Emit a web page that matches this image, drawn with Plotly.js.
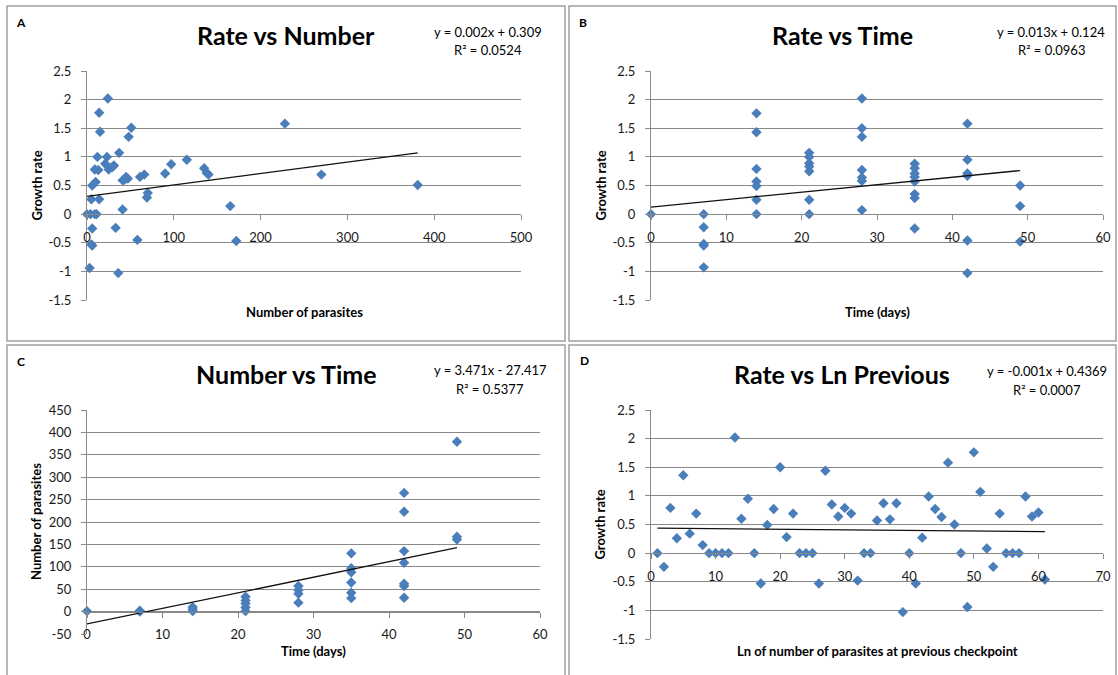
<!DOCTYPE html>
<html>
<head>
<meta charset="utf-8">
<script src="https://cdn.plot.ly/plotly-3.0.1.min.js"></script>
<style>
  html, body { margin: 0; padding: 0; background: #ffffff; }
  #chart { width: 1118px; height: 675px; }
</style>
</head>
<body>
<div id="chart"></div>
<script>
// ---------------- DATA ----------------
// Panel A: growth rate vs number of parasites
const numParasitesA = [24, 14, 15, 51, 48, 37, 12, 23, 21, 25, 31, 29, 9, 13, 10, 6, 5, 14, 41, 43, 47, 45, 61, 66, 90, 97, 115, 135, 138, 140, 70, 69, 41, 165, 228, 270, 381, 0, 4, 9, 11, 6, 33, 5, 6, 58, 172, 3, 36];
const rateA        = [2.02, 1.77, 1.44, 1.51, 1.35, 1.07, 1.0, 1.0, 0.88, 0.78, 0.85, 0.82, 0.78, 0.77, 0.56, 0.5, 0.26, 0.26, 0.59, 0.6, 0.62, 0.65, 0.65, 0.69, 0.71, 0.87, 0.95, 0.8, 0.72, 0.69, 0.37, 0.29, 0.08, 0.14, 1.58, 0.69, 0.51, 0, 0, 0, 0, -0.25, -0.24, -0.53, -0.55, -0.45, -0.47, -0.94, -1.03];

// Panel B: growth rate vs time (days)
const timeB = [0, 7, 7, 7, 7, 7, 14, 14, 14, 14, 14, 14, 14, 21, 21, 21, 21, 21, 21, 21, 28, 28, 28, 28, 28, 28, 28, 35, 35, 35, 35, 35, 35, 35, 35, 42, 42, 42, 42, 42, 42, 49, 49, 49];
const rateB = [0, 0, -0.23, -0.52, -0.55, -0.93, 1.76, 1.43, 0.79, 0.57, 0.49, 0.25, 0, 1.07, 1.0, 0.89, 0.83, 0.75, 0.25, 0, 2.02, 1.5, 1.35, 0.77, 0.64, 0.58, 0.07, 0.88, 0.8, 0.71, 0.65, 0.57, 0.35, 0.28, -0.25, 1.58, 0.95, 0.71, 0.67, -0.46, -1.03, 0.5, 0.14, -0.48];

// Panel C: number of parasites vs time (days)
const timeC = [0, 7, 7, 14, 14, 14, 21, 21, 21, 21, 21, 28, 28, 28, 28, 35, 35, 35, 35, 35, 35, 42, 42, 42, 42, 42, 42, 42, 49, 49, 49];
const numParasitesC = [1, 0, 2, 10, 5, 1, 33, 25, 18, 9, 1, 57, 48, 40, 20, 130, 97, 88, 65, 42, 30, 265, 223, 135, 109, 62, 57, 31, 379, 167, 161];

// Panel D: growth rate vs ln of number of parasites at previous checkpoint
const lnPrevD = [1, 2, 3, 4, 5, 6, 7, 8, 9, 10, 11, 12, 13, 14, 15, 16, 17, 18, 19, 20, 21, 22, 23, 24, 25, 26, 27, 28, 29, 30, 31, 32, 33, 34, 35, 36, 37, 38, 39, 40, 41, 42, 43, 44, 45, 46, 47, 48, 49, 50, 51, 52, 53, 54, 55, 56, 57, 58, 59, 60, 61];
const rateD   = [0, -0.24, 0.79, 0.26, 1.36, 0.34, 0.69, 0.14, 0, 0, 0, 0, 2.02, 0.6, 0.95, 0, -0.53, 0.49, 0.77, 1.5, 0.28, 0.69, 0, 0, 0, -0.53, 1.44, 0.85, 0.64, 0.79, 0.69, -0.48, 0, 0, 0.57, 0.87, 0.59, 0.87, -1.03, 0, -0.53, 0.27, 0.99, 0.77, 0.63, 1.58, 0.5, 0, -0.94, 1.76, 1.07, 0.08, -0.24, 0.69, 0, 0, 0, 0.99, 0.64, 0.71, -0.46];

// Linear trendlines (as displayed)
const trendSlope     = [0.002, 0.013, 3.471, -0.001];
const trendIntercept = [0.309, 0.124, -27.417, 0.4369];
const eqLabels = ["y = 0.002x + 0.309", "y = 0.013x + 0.124", "y = 3.471x - 27.417", "y = -0.001x + 0.4369"];
const r2Labels = ["R² = 0.0524", "R² = 0.0963", "R² = 0.5377", "R² = 0.0007"];

// Text
const panelLetters = ["A", "B", "C", "D"];
const chartTitles = ["Rate vs Number", "Rate vs Time", "Number vs Time", "Rate vs Ln Previous"];
const xTitles = ["Number of parasites", "Time (days)", "Time (days)", "Ln of number of parasites at previous checkpoint"];
const yTitles = ["Growth rate", "Growth rate", "Number of parasites", "Growth rate"];

// Axis ticks
const rateTickVals = [-1.5, -1, -0.5, 0, 0.5, 1, 1.5, 2, 2.5];
const rateTickText = ["-1.5", "-1", "-0.5", "0", "0.5", "1", "1.5", "2", "2.5"];
const numTickVals = [-50, 0, 50, 100, 150, 200, 250, 300, 350, 400, 450];
const numTickText = ["-50", "0", "50", "100", "150", "200", "250", "300", "350", "400", "450"];
const xRanges = [[0, 500], [0, 60], [0, 60], [0, 70]];
const xDticks = [100, 10, 10, 10];

// ---------------- LAYOUT ----------------
const W = 1118, H = 675;
const px = x => x / W;
const py = y => 1 - y / H;
const FONT = 'Lato, "Open Sans", "Liberation Sans", sans-serif';
const BLUE = '#4A7EBB';
const GRID = '#898989';

const xData = [numParasitesA, timeB, timeC, lnPrevD];
const yData = [rateA, rateB, numParasitesC, rateD];

// pixel boxes of plot areas + panel frames
const boxes = [
  {x0: 87,  x1: 521,  yT: 71,  yB: 300, fx0: 7,   fx1: 565,  fy0: 6,   fy1: 341, letter: [21, 23],  title: [286, 35],  eq: [488, 32],   xt: 312, yt: 36},
  {x0: 651, x1: 1103, yT: 71,  yB: 300, fx0: 569, fx1: 1116, fy0: 6,   fy1: 341, letter: [583, 22], title: [842, 35],  eq: [1051, 32],  xt: 312, yt: 600},
  {x0: 87,  x1: 540,  yT: 410, yB: 634, fx0: 7,   fx1: 565,  fy0: 345, fy1: 690, letter: [21, 361], title: [286, 374], eq: [490, 370],  xt: 651, yt: 36},
  {x0: 651, x1: 1103, yT: 410, yB: 639, fx0: 569, fx1: 1116, fy0: 345, fy1: 690, letter: [584, 360], title: [842, 374], eq: [1047, 371], xt: 651, yt: 599}
];

const traces = [];
const layout = {
  width: W, height: H,
  margin: {l: 0, r: 0, t: 0, b: 0},
  paper_bgcolor: '#ffffff', plot_bgcolor: 'rgba(0,0,0,0)',
  showlegend: false,
  hovermode: false,
  font: {family: FONT, color: '#000000'},
  annotations: [],
  shapes: []
};

for (let i = 0; i < 4; i++) {
  const b = boxes[i];
  const n = i === 0 ? '' : String(i + 1);
  const xName = 'x' + n, yName = 'y' + n;
  const isNum = i === 2;
  const yRange = isNum ? [-50, 450] : [-1.5, 2.5];
  const yZeroPx = b.yT + (yRange[1] - 0) / (yRange[1] - yRange[0]) * (b.yB - b.yT);

  // scatter points
  traces.push({
    type: 'scatter', mode: 'markers',
    x: xData[i], y: yData[i],
    xaxis: xName, yaxis: yName,
    marker: {symbol: 'diamond', size: 8, color: BLUE},
    cliponaxis: false
  });
  // trendline over data range
  const xmin = Math.min(...xData[i]), xmax = Math.max(...xData[i]);
  traces.push({
    type: 'scatter', mode: 'lines',
    x: [xmin, xmax],
    y: [trendSlope[i] * xmin + trendIntercept[i], trendSlope[i] * xmax + trendIntercept[i]],
    xaxis: xName, yaxis: yName,
    line: {color: '#111111', width: 1.3},
    cliponaxis: false
  });

  layout['xaxis' + n] = {
    domain: [px(b.x0), px(b.x1)],
    range: xRanges[i], dtick: xDticks[i], tick0: 0,
    anchor: 'free', position: py(yZeroPx),
    showgrid: false, zeroline: false,
    showline: true, linecolor: GRID, linewidth: 1,
    ticks: 'outside', ticklen: 5, tickcolor: GRID, tickwidth: 1,
    ticklabelstandoff: 6,
    tickfont: {family: FONT, size: 13, color: '#1a1a1a'},
    fixedrange: true
  };
  layout['yaxis' + n] = {
    domain: [py(b.yB), py(b.yT)],
    range: yRange,
    tickmode: 'array',
    tickvals: isNum ? numTickVals : rateTickVals,
    ticktext: isNum ? numTickText : rateTickText,
    anchor: xName,
    showgrid: true, gridcolor: GRID, gridwidth: 1,
    zeroline: false,
    showline: true, linecolor: GRID, linewidth: 1,
    ticks: 'outside', ticklen: 5, tickcolor: GRID, tickwidth: 1,
    ticklabelstandoff: 7,
    tickfont: {family: FONT, size: 13, color: '#1a1a1a'},
    fixedrange: true
  };

  // panel frame
  layout.shapes.push({
    type: 'rect', xref: 'paper', yref: 'paper',
    x0: px(b.fx0), x1: px(b.fx1), y0: py(b.fy1), y1: py(b.fy0),
    line: {color: '#a0a0a0', width: 1.5}, fillcolor: 'rgba(0,0,0,0)', layer: 'below'
  });

  // panel letter
  layout.annotations.push({
    xref: 'paper', yref: 'paper', x: px(b.letter[0]), y: py(b.letter[1]),
    xanchor: 'center', yanchor: 'middle', showarrow: false,
    text: '<b>' + panelLetters[i] + '</b>', font: {family: FONT, size: 12, color: '#000'}
  });
  // chart title
  layout.annotations.push({
    xref: 'paper', yref: 'paper', x: px(b.title[0]), y: py(b.title[1]),
    xanchor: 'center', yanchor: 'middle', showarrow: false,
    text: '<b>' + chartTitles[i] + '</b>', font: {family: FONT, size: 25, color: '#000'}
  });
  // equation
  layout.annotations.push({
    xref: 'paper', yref: 'paper', x: px(b.eq[0]), y: py(b.eq[1]),
    xanchor: 'center', yanchor: 'middle', showarrow: false,
    text: eqLabels[i], font: {family: FONT, size: 13, color: '#000'}
  });
  layout.annotations.push({
    xref: 'paper', yref: 'paper', x: px(b.eq[0]), y: py(b.eq[1] + 18.5),
    xanchor: 'center', yanchor: 'middle', showarrow: false,
    text: r2Labels[i], font: {family: FONT, size: 13, color: '#000'}
  });
  // x title
  layout.annotations.push({
    xref: 'paper', yref: 'paper', x: px((b.x0 + b.x1) / 2), y: py(b.xt),
    xanchor: 'center', yanchor: 'middle', showarrow: false,
    text: '<b>' + xTitles[i] + '</b>', font: {family: FONT, size: 13, color: '#000'}
  });
  // y title
  layout.annotations.push({
    xref: 'paper', yref: 'paper', x: px(b.yt), y: py((b.yT + b.yB) / 2),
    xanchor: 'center', yanchor: 'middle', showarrow: false, textangle: -90,
    text: '<b>' + yTitles[i] + '</b>', font: {family: FONT, size: 13, color: '#000'}
  });
}

Plotly.newPlot('chart', traces, layout, {displayModeBar: false, staticPlot: true});
</script>
</body>
</html>
